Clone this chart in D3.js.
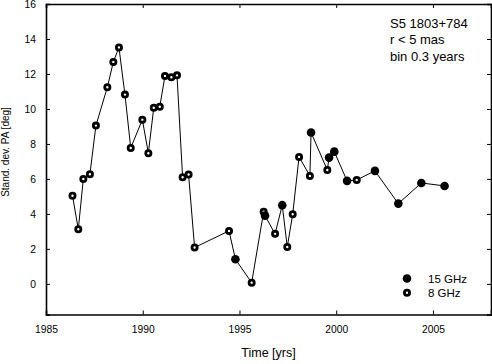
<!DOCTYPE html>
<html lang="en">
<head>
<meta charset="UTF-8">
<title>S5 1803+784 stand. dev. PA</title>
<script src="https://d3js.org/d3.v7.min.js"></script>
<style>
    body { margin: 0; background: #fff; }
    svg { font-family: "Liberation Sans", Arial, sans-serif; }
</style>
</head>
<body>
<div id="chart"></div>
<script>
// epoch (yr), std dev of PA (deg), band
const years = [1986.37, 1986.67, 1986.93, 1987.27, 1987.58, 1988.17, 1988.48, 1988.77, 1989.08, 1989.38,
               1989.98, 1990.29, 1990.57, 1990.88, 1991.15, 1991.48, 1991.77, 1992.06, 1992.37, 1992.68,
               1994.46, 1994.79, 1995.63, 1996.25, 1996.32, 1996.84, 1997.21, 1997.47, 1997.75, 1998.08,
               1998.64, 1998.70, 1999.54, 1999.63, 1999.90, 2000.56, 2001.06, 2002.00, 2003.21, 2004.40,
               2005.60];
const stdPA = [5.04, 3.12, 6.0, 6.27, 9.05, 11.24, 12.69, 13.52, 10.82, 7.77,
               9.39, 7.47, 10.07, 10.13, 11.89, 11.81, 11.92, 6.1, 6.25, 2.08,
               3.03, 1.41, 0.07, 4.13, 3.9, 2.86, 4.5, 2.11, 3.98, 7.26,
               6.17, 8.65, 6.51, 7.22, 7.56, 5.89, 5.94, 6.46, 4.59, 5.77,
               5.6];
const band = ["8", "8", "8", "8", "8", "8", "8", "8", "8", "8",
              "8", "8", "8", "8", "8", "8", "8", "8", "8", "8",
              "8", "15", "8", "8", "15", "8", "15", "8", "8", "8",
              "8", "15", "8", "15", "15", "15", "8", "15", "15", "15",
              "15"];

const xTicks = [1985, 1990, 1995, 2000, 2005];
const yTicks = [0, 2, 4, 6, 8, 10, 12, 14, 16];
const legendItems = ["15 GHz", "8 GHz"];
const noteLines = ["S5 1803+784", "r < 5 mas", "bin 0.3 years"];

const width = 492, height = 364;
const plotL = 46, plotR = 491, plotT = 4, plotB = 314.5;

const x = d3.scaleLinear().domain([1985, 2008]).range([plotL, plotR]);
const y = d3.scaleLinear().domain([-1.75, 16]).range([plotB, plotT]);

const points = years.map((t, i) => ({ t: t, v: stdPA[i], band: band[i] }));

const svg = d3.select("#chart").append("svg")
    .attr("width", width)
    .attr("height", height);

// axes, all ticks pointing inwards
const tickLen = 4;
svg.append("g").attr("transform", `translate(0,${plotB})`)
    .call(d3.axisBottom(x).tickValues(xTicks).tickFormat(d3.format("d")).tickSize(-tickLen).tickPadding(11))
    .call(g => g.selectAll("text").attr("font-size", "10.3px"));
svg.append("g").attr("transform", `translate(0,${plotT})`)
    .call(d3.axisTop(x).tickValues(xTicks).tickFormat("").tickSize(-tickLen));
svg.append("g").attr("transform", `translate(${plotL},0)`)
    .call(d3.axisLeft(y).tickValues(yTicks).tickSize(-tickLen).tickPadding(10))
    .call(g => g.selectAll("text").attr("font-size", "10.3px").attr("dy", "0.36em"));
svg.append("g").attr("transform", `translate(${plotR},0)`)
    .call(d3.axisRight(y).tickValues(yTicks).tickFormat("").tickSize(-tickLen));

svg.selectAll(".domain").attr("stroke", "#000").attr("stroke-width", 1.6);
svg.selectAll(".tick line").attr("stroke", "#000").attr("stroke-width", 1);
svg.selectAll(".tick text").attr("fill", "#000").attr("font-family", "Liberation Sans, Arial, sans-serif");

// axis titles
svg.append("text")
    .attr("x", (plotL + plotR) / 2)
    .attr("y", 357)
    .attr("text-anchor", "middle")
    .attr("font-size", "12.5px")
    .text("Time [yrs]");

svg.append("text")
    .attr("transform", "translate(9,152) rotate(-90)")
    .attr("text-anchor", "middle")
    .attr("font-size", "10px")
    .text("Stand. dev. PA [deg]");

// connecting line
const line = d3.line().x(d => x(d.t)).y(d => y(d.v));
svg.append("path")
    .datum(points)
    .attr("fill", "none")
    .attr("stroke", "#000")
    .attr("stroke-width", 1)
    .attr("d", line);

// markers
function drawMarker(sel, b) {
    if (b === "15") {
        sel.attr("r", 4.3).attr("fill", "#000").attr("stroke", "none");
    } else {
        sel.attr("r", 2.6).attr("fill", "#fff").attr("stroke", "#000").attr("stroke-width", 2.8);
    }
}
svg.selectAll("circle.pt")
    .data(points)
    .join("circle")
    .attr("class", "pt")
    .attr("cx", d => x(d.t))
    .attr("cy", d => y(d.v))
    .each(function(d) { drawMarker(d3.select(this), d.band); });

// annotation
svg.append("g").selectAll("text")
    .data(noteLines)
    .join("text")
    .attr("x", 390)
    .attr("y", (d, i) => 27.5 + i * 16.5)
    .attr("font-size", "13px")
    .text(d => d);

// legend
const lg = svg.append("g").selectAll("g")
    .data(legendItems)
    .join("g")
    .attr("transform", (d, i) => `translate(407,${278.5 + i * 14.3})`);
lg.append("circle").each(function(d) { drawMarker(d3.select(this), d === "15 GHz" ? "15" : "8"); });
lg.append("text")
    .attr("x", 21)
    .attr("y", 4.2)
    .attr("font-size", "11.5px")
    .text(d => d);
</script>
</body>
</html>
